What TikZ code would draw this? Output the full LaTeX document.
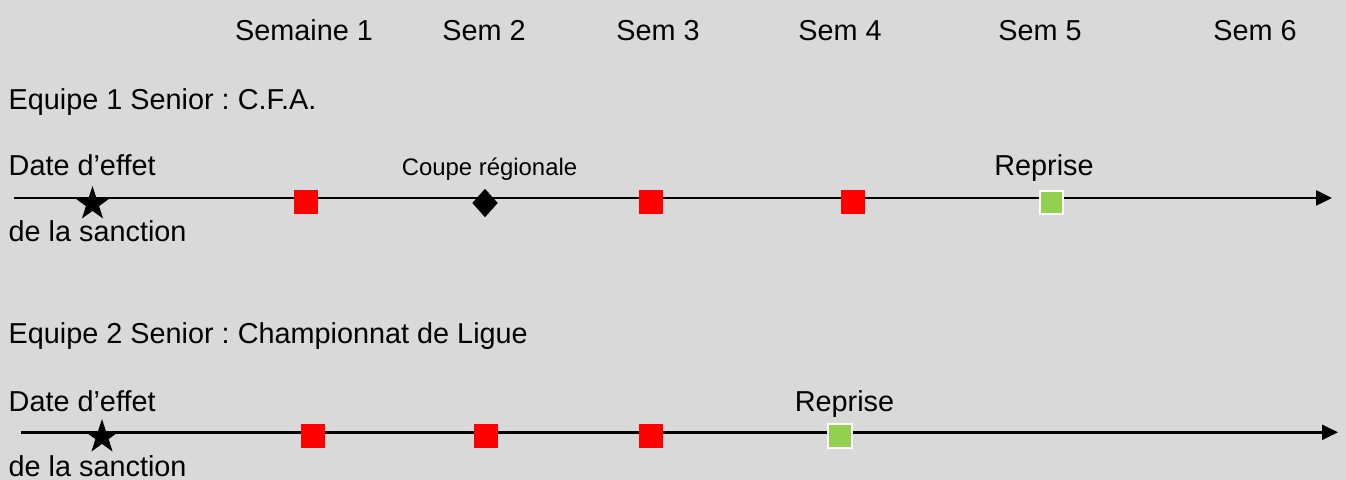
\documentclass[tikz,border=0pt]{standalone}
\usepackage{fontspec}
\setmainfont{Liberation Sans}
\usepackage{tikz}
\usetikzlibrary{shapes.geometric,arrows.meta}

\definecolor{fond}{RGB}{217,217,217}
\definecolor{vert}{RGB}{146,208,80}

\frenchspacing

\tikzset{
	txt/.style={inner sep=0pt,font=\fontsize{8.2pt}{10pt}\selectfont},
	petit/.style={inner sep=0pt,font=\fontsize{6.8pt}{8pt}\selectfont},
	match/.style={shape=rectangle,fill=red,minimum size=0.24cm,inner sep=0pt},
	reprise/.style={shape=rectangle,fill=vert,draw=white,line width=0.5pt,minimum size=0.235cm,inner sep=0pt},
	effet/.style={shape=star,star points=5,star point ratio=2.6,fill=black,minimum size=0.36cm,inner sep=0pt},
	coupe/.style={shape=diamond,fill=black,minimum width=0.26cm,minimum height=0.29cm,inner sep=0pt},
	axe/.style={line width=0.7pt,-{Triangle[length=0.16cm,width=0.15cm]}}
}

\begin{document}
\begin{tikzpicture}
	
	\fill[fond] (0, 0) rectangle (13.46, 4.80);
	\useasboundingbox (0, 0) rectangle (13.46, 4.80);
	
	% semaines
	\node[txt,anchor=base] (s1) at (3.04, 4.395)  {Semaine 1};
	\node[txt,anchor=base] (s2) at (4.84, 4.395)  {Sem 2};
	\node[txt,anchor=base] (s3) at (6.58, 4.395)  {Sem 3};
	\node[txt,anchor=base] (s4) at (8.40, 4.395)  {Sem 4};
	\node[txt,anchor=base] (s5) at (10.40, 4.395) {Sem 5};
	\node[txt,anchor=base] (s6) at (12.55, 4.395) {Sem 6};
	
	% equipe 1
	\node[txt,anchor=base west] (eq1) at (0.08, 3.70)   {Equipe 1 Senior : C.F.A.};
	\node[txt,anchor=base west] (da1) at (0.08, 3.04)   {Date d’effet};
	\node[txt,anchor=base west] (sa1) at (0.08, 2.38)   {de la sanction};
	\node[petit,anchor=base] (cr1) at (4.895, 3.04)     {Coupe régionale};
	\node[txt,anchor=base] (re1) at (10.44, 3.04)       {Reprise};
	
	\coordinate (d1) at (0.14, 2.82);
	\coordinate (f1) at (13.32, 2.82);
	\path[axe] (d1) edge (f1);
	
	\node[effet] (et1) at (0.925, 2.76) {};
	\node[match] (m11) at (3.055, 2.775) {};
	\node[coupe] (c1)  at (4.85, 2.77)  {};
	\node[match] (m12) at (6.51, 2.775) {};
	\node[match] (m13) at (8.53, 2.775) {};
	\node[reprise] (r1) at (10.515, 2.775) {};
	
	% equipe 2
	\node[txt,anchor=base west] (eq2) at (0.08, 1.36)   {Equipe 2 Senior : Championnat de Ligue};
	\node[txt,anchor=base west] (da2) at (0.08, 0.68)   {Date d’effet};
	\node[txt,anchor=base west] (sa2) at (0.08, 0.03)   {de la sanction};
	\node[txt,anchor=base] (re2) at (8.445, 0.68)       {Reprise};
	
	\coordinate (d2) at (0.21, 0.477);
	\coordinate (f2) at (13.38, 0.477);
	\path[axe] (d2) edge (f2);
	
	\node[effet] (et2) at (1.02, 0.43) {};
	\node[match] (m21) at (3.13, 0.44) {};
	\node[match] (m22) at (4.855, 0.44) {};
	\node[match] (m23) at (6.51, 0.44) {};
	\node[reprise] (r2) at (8.40, 0.44) {};

\end{tikzpicture}
\end{document}
